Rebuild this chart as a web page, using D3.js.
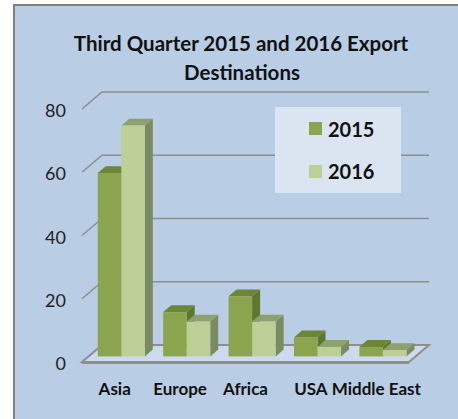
<!DOCTYPE html>
<html lang="en">

<head>
  <meta charset="UTF-8">
  <script src="https://cdnjs.cloudflare.com/ajax/libs/d3/7.8.5/d3.min.js"></script>
  <style>
    body {
      margin: 0;
      background: #fff;
      font-family: 'Lato', sans-serif;
    }
  </style>
  <title>Export Destinations</title>
</head>

<body>
  <div id="chart"></div>
  <script>
    // data
    const categories = ["Asia", "Europe", "Africa", "USA", "Middle East"];
    const years = ["2015", "2016"];
    const values2015 = [58, 14, 19, 6, 3];
    const values2016 = [73, 11, 11, 3, 2];
    const yTicks = [0, 20, 40, 60, 80];

    const W = 458, H = 419;
    const svg = d3.select("#chart").append("svg")
      .attr("width", W).attr("height", H);

    // chart box
    svg.append("rect")
      .attr("x", 14).attr("y", 5)
      .attr("width", W + 20).attr("height", H + 20)
      .attr("fill", "#b9cde5")
      .attr("stroke", "#7f7f7f").attr("stroke-width", 2);

    svg.append("text")
      .attr("x", 241).attr("y", 51)
      .attr("text-anchor", "middle")
      .attr("font-size", 20.5).attr("font-weight", "bold").attr("fill", "#111")
      .text("Third Quarter 2015 and 2016 Export");
    svg.append("text")
      .attr("x", 242).attr("y", 80)
      .attr("text-anchor", "middle")
      .attr("font-size", 20.5).attr("font-weight", "bold").attr("fill", "#111")
      .text("Destinations");

    // pseudo 3d: front plane + depth vector
    const depth = { dx: 20, dy: -17 };
    const x = d3.scaleBand().domain(categories).range([82, 409]);
    const y = d3.scaleLinear().domain([0, 80]).range([362, 109]);
    const inner = d3.scaleBand().domain(years).range([0, x.bandwidth()]).paddingOuter(0.39);
    const z0 = 0.33, z1 = 0.73;

    // gridlines on the back wall with a slant on the side wall
    const grid = svg.append("g");
    yTicks.filter(d => d > 0).forEach(v => {
      grid.append("path")
        .attr("d", `M82,${y(v)} L${82 + depth.dx},${y(v) + depth.dy} L${409 + depth.dx},${y(v) + depth.dy}`)
        .attr("fill", "none").attr("stroke", "#8e8e8e").attr("stroke-width", 1.5);
    });

    // floor
    svg.append("path")
      .attr("d", `M82,${y(0)} L409,${y(0)} L${409 + depth.dx},${y(0) + depth.dy} L${82 + depth.dx},${y(0) + depth.dy} Z`)
      .attr("fill", "#cbdaec").attr("stroke", "#8e8e8e").attr("stroke-width", 2);
    svg.append("line")
      .attr("x1", 82).attr("x2", 409).attr("y1", y(0) + 0.5).attr("y2", y(0) + 0.5)
      .attr("stroke", "#8e8e8e").attr("stroke-width", 3);

    // y labels
    svg.append("g").selectAll("text").data(yTicks).join("text")
      .attr("x", 66).attr("y", d => y(d) + 1)
      .attr("text-anchor", "end").attr("dominant-baseline", "central")
      .attr("font-size", 18).attr("fill", "#222")
      .text(d => d);

    const colors = {
      "2015": { front: "#8ba54e", top: "#6c8536", side: "#5d782c" },
      "2016": { front: "#bccf95", top: "#8fa06f", side: "#7a8b62" }
    };

    const bars = [];
    categories.forEach((c, i) => {
      bars.push({ cat: c, year: "2015", v: values2015[i] });
      bars.push({ cat: c, year: "2016", v: values2016[i] });
    });

    const g = svg.append("g");
    bars.forEach(b => {
      const xl = x(b.cat) + inner(b.year) + depth.dx * z0;
      const w = inner.bandwidth();
      const yb = y(0) + depth.dy * z0;
      const yt = y(b.v) + depth.dy * z0;
      const ddx = depth.dx * (z1 - z0), ddy = depth.dy * (z1 - z0);
      const col = colors[b.year];
      // side
      g.append("path")
        .attr("d", `M${xl + w},${yb} L${xl + w + ddx},${yb + ddy} L${xl + w + ddx},${yt + ddy} L${xl + w},${yt} Z`)
        .attr("fill", col.side);
      // top
      g.append("path")
        .attr("d", `M${xl},${yt} L${xl + w},${yt} L${xl + w + ddx},${yt + ddy} L${xl + ddx},${yt + ddy} Z`)
        .attr("fill", col.top);
      // front
      g.append("rect")
        .attr("x", xl).attr("y", yt)
        .attr("width", w).attr("height", yb - yt)
        .attr("fill", col.front);
    });

    // category labels
    svg.append("g").selectAll("text").data(categories).join("text")
      .attr("x", d => x(d) + x.bandwidth() / 2).attr("y", 395)
      .attr("text-anchor", "middle")
      .attr("font-size", 17).attr("font-weight", "bold").attr("fill", "#111")
      .text(d => d);

    // legend
    const lg = svg.append("g");
    lg.append("rect")
      .attr("x", 275).attr("y", 107).attr("width", 126).attr("height", 86)
      .attr("fill", "#dbe5f1");
    years.forEach((yr, i) => {
      lg.append("rect")
        .attr("x", 309).attr("y", 122 + i * 43).attr("width", 13).attr("height", 13)
        .attr("fill", colors[yr].front);
      lg.append("text")
        .attr("x", 328).attr("y", 137 + i * 42)
        .attr("font-size", 20).attr("font-weight", "bold").attr("fill", "#111")
        .text(yr);
    });
  </script>
</body>

</html>
